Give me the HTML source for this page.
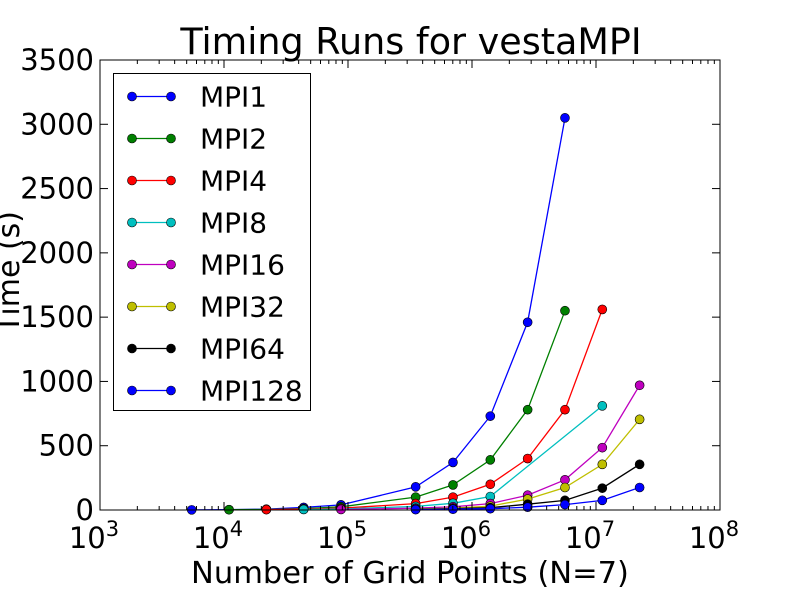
<!DOCTYPE html>
<html><head><meta charset="utf-8"><style>
html,body{margin:0;padding:0;background:#fff;}
svg{display:block;font-family:"DejaVu Sans","Liberation Sans",sans-serif;}
</style></head><body>
<svg id="chart" width="800" height="600" xmlns="http://www.w3.org/2000/svg">
<rect width="800" height="600" fill="#fff"/>
<text x="411" y="54" font-size="36.5" text-anchor="middle">Timing Runs for vestaMPI</text>
<text x="410" y="583" font-size="30.5" text-anchor="middle">Number of Grid Points (N=7)</text>
<text transform="translate(19,272) rotate(-90)" font-size="30" text-anchor="middle">Time (s)</text>
<g id="marks"></g>
<g id="axes"></g>
<g id="legend"></g>
</svg>
<script>
const gridK = [0,1,2,3,4,5,6,7,8,9,10,11,12];
const baseN = 5488;
const seriesNames = ["MPI1","MPI2","MPI4","MPI8","MPI16","MPI32","MPI64","MPI128"];
const seriesColors = ["#0000ff","#008000","#ff0000","#00bfbf","#bf00bf","#bfbf00","#000000","#0000ff"];
const mpi1K = [0,1,2,3,4,6,7,8,9,10];
const mpi1V = [1,3,6,20,40,180,370,730,1460,3050];
const mpi2K = [1,2,3,4,6,7,8,9,10];
const mpi2V = [2,4,10,25,100,195,390,780,1550];
const mpi4K = [2,3,4,6,7,8,9,10,11];
const mpi4V = [3,6,14,50,100,200,400,780,1560];
const mpi8K = [3,4,6,7,8,11];
const mpi8V = [4,8,28,52,105,810];
const mpi16K = [4,6,7,8,9,10,11,12];
const mpi16V = [4,14,25,50,115,235,485,970];
const mpi32K = [6,7,8,9,10,11,12];
const mpi32V = [8,15,30,85,175,355,705];
const mpi64K = [6,7,8,9,10,11,12];
const mpi64V = [5,10,18,45,75,170,355];
const mpi128K = [6,7,8,9,10,11,12];
const mpi128V = [3,6,10,22,42,75,175];
const yTicks = [0,500,1000,1500,2000,2500,3000,3500];
const xDecades = [3,4,5,6,7,8];

const allK = [mpi1K,mpi2K,mpi4K,mpi8K,mpi16K,mpi32K,mpi64K,mpi128K];
const allV = [mpi1V,mpi2V,mpi4V,mpi8V,mpi16V,mpi32V,mpi64V,mpi128V];
const L=100,R=720,T=60,B=510;
const xs = v => L + (Math.log10(v)-3)/5*(R-L);
const ys = v => B - v/3500*(B-T);
const NS="http://www.w3.org/2000/svg";
function mk(tag,attrs,parent){const e=document.createElementNS(NS,tag);for(const k in attrs)e.setAttribute(k,attrs[k]);parent.appendChild(e);return e;}
const marks=document.getElementById('marks');
allK.forEach((ks,si)=>{
  const g=mk('g',{},marks);
  
  
  const pts=ks.map((k,i)=>xs(baseN*Math.pow(2,k)).toFixed(1)+','+ys(allV[si][i]).toFixed(1)).join(' ');
  const pl=mk('polyline',{points:pts,fill:'none',stroke:seriesColors[si],'stroke-width':1.3},g);
  
  
  ks.forEach((k,i)=>{
    const c=mk('circle',{cx:xs(baseN*Math.pow(2,k)),cy:ys(allV[si][i]),r:4.5,fill:seriesColors[si],stroke:'#000','stroke-width':0.6},g);
    
    
  });
});
const axes=document.getElementById('axes');
const frame=mk('rect',{x:L,y:T,width:R-L,height:B-T,fill:'none',stroke:'#000','stroke-width':1},axes);


yTicks.forEach(v=>{
  const y=ys(v);
  mk('line',{x1:L,y1:y,x2:L+8,y2:y,stroke:'#000'},axes);
  mk('line',{x1:R,y1:y,x2:R-8,y2:y,stroke:'#000'},axes);
  const t=mk('text',{x:L-6,y:y+10,'font-size':29,'text-anchor':'end'},axes);
  t.textContent=v;
  
  
});
xDecades.forEach((d,i)=>{
  const x=xs(Math.pow(10,d));
  mk('line',{x1:x,y1:B,x2:x,y2:B-8,stroke:'#000'},axes);
  mk('line',{x1:x,y1:T,x2:x,y2:T+8,stroke:'#000'},axes);
  if(i<xDecades.length-1){for(let m=2;m<10;m++){const xm=xs(m*Math.pow(10,d));
    mk('line',{x1:xm,y1:B,x2:xm,y2:B-4,stroke:'#000'},axes);
    mk('line',{x1:xm,y1:T,x2:xm,y2:T+4,stroke:'#000'},axes);}}
  const t=mk('text',{x:x-6,y:B+38,'font-size':29,'text-anchor':'middle'},axes);
  t.textContent='10';
  const s=mk('tspan',{dy:-12,'font-size':21},t);
  s.textContent=d;
  
  
});
const leg=document.getElementById('legend');


mk('rect',{x:113.5,y:73.5,width:197,height:337,fill:'#fff',stroke:'#000','stroke-width':1},leg);
seriesNames.forEach((n,i)=>{
  const y=96.5+i*42;
  const g=mk('g',{},leg);
  
  
  mk('line',{x1:132,y1:y,x2:171,y2:y,stroke:seriesColors[i],'stroke-width':1.3},g);
  mk('circle',{cx:132,cy:y,r:4.5,fill:seriesColors[i],stroke:'#000','stroke-width':0.6},g);
  mk('circle',{cx:171,cy:y,r:4.5,fill:seriesColors[i],stroke:'#000','stroke-width':0.6},g);
  const t=mk('text',{x:200,y:y+10,'font-size':28},g);
  t.textContent=n;
});
</script>
</body></html>
